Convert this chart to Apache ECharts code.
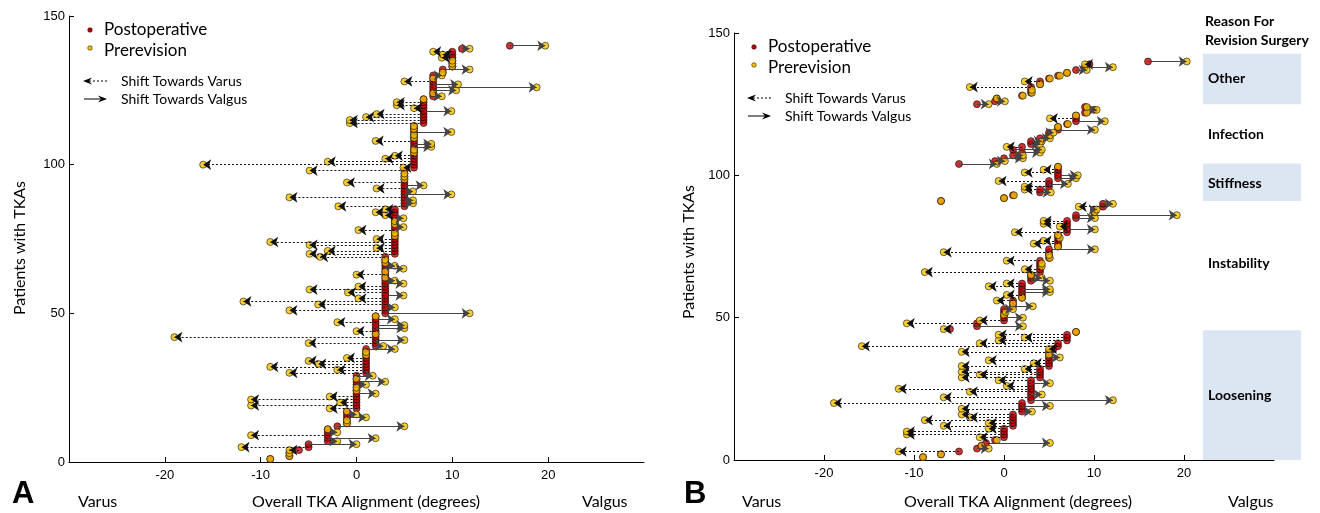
<!DOCTYPE html>
<html>
<head>
<meta charset="utf-8">
<script src="https://cdn.jsdelivr.net/npm/echarts/dist/echarts.min.js"></script>
<style>
html,body{margin:0;padding:0;background:#fff}
#chart{width:1320px;height:513px}
</style>
</head>
<body>
<div id="chart"></div>
<script>
// patients ranked from bottom (1) to top (140); alignment in degrees
var postA = [-9,-7,-7,-6,-5,-5,-3,-3,-3,-3,-3,-2,
  -1,-1,-1,-1,-1,
  0,0,0,0,0,0,0,0,0,0,0,0,
  1,1,1,1,1,1,1,1,1,
  2,2,2,2,2,2,2,2,2,2,2,
  3,3,3,3,3,3,3,3,3,3,3,3,3,3,3,3,3,3,3,3,
  4,4,4,4,4,4,4,4,4,4,4,4,4,4,4,4,
  5,5,5,5,5,5,5,5,5,5,5,5,5,
  6,6,6,6,6,6,6,6,6,6,6,6,6,6,6,
  7,7,7,7,7,7,7,7,7,
  8,8,8,8,8,8,8,8,
  9,9,
  10,10,10,10,10,10,
  11,16];
var preA = [-9,-7,-7,-7,-12,0,-2,2,-11,-2,-3,5,
  -1,-1,1,0,-1,
  -2.8,-11,-1.7,-11,-2.8,2,0,0,1,3,0,1.7,
  -7,-2,-9,-4,-5,-1,1,1,4,
  2.8,-5,5,-19,2,0,5,5,-2,4,2,
  11.8,-7,4,-4,-11.8,0.2,4.9,-0.9,-4.9,0.2,4.9,4,3,0,3,4.9,4,3,3,-3.8,
  -4.9,-3,2.1,-4.9,-9,2.1,4,4,0.2,4.9,4,4,4.9,3,2,3,
  -1.9,5.9,5.9,-7,9.9,5.9,2.1,7,-1,5,5,5,-4.9,
  4.9,-16,-3,3,4,6,6,7.8,7.8,2,6,6,9.9,6,6,
  -0.7,-0.7,1,2.1,9.9,6,4.2,4.2,7,
  8.9,8,10.4,18.8,10.6,5,8,8.9,
  9,11.8,
  10,10,10,8.9,9,8,
  11.8,19.7];

// panel B: grouped by reason for revision, bottom to top
var postB = [-9,-7,-5,-3,-2.5,-2,-1,0,0,0,0,1,1,1,1,1,2,2,2,2,3,3,3,3,3,3,3,3,4,4,4,4,5,5,5,5,5,5,5.5,6,6,7,7,7,8,
  -6,-3,-3,0,0,0,0,0,1,1,1,2,2,2,2,2,2,3,3,3,4,4,4,4,4,5,5,5,5,6,6,6,6,6,7,7,7,7,7,8,8,10,10,11,11,
  -7,0,1,4,4,5,5,5,6,6,6,6,6,
  -5,-1,0,1,2,1,2,3,3,4,5,5,6,6,7,8,8,8,9,10,9,
  -3,-1,-0.8,2,3,3,3,4,4,5,6,7,8,9,9.5,16];
var preB = [-9,-7,-11.7,-1.7,-2.5,5.1,-0.8,-2.7,-10.8,-10.8,-1.7,-6.7,-1.7,-8.8,-3.8,-4.7,3.1,-4.7,5.1,-18.9,
  12.1,-6.7,4.2,-3.8,-11.7,0.3,5.1,-0.6,-4.7,-2.7,-4.7,2.3,-4.7,3.3,-1.7,6.2,5,-4.7,5,-15.8,-2.7,-0.6,2.3,-0.6,8,
  -6.7,2.1,-10.8,-2.7,2.1,0,0.2,1,3.2,1,-0.8,2,0.3,5.1,5.1,-1.7,0.3,5.1,4.2,3,-8.8,2.3,4.2,4.2,0.3,
  5.1,5,-6.7,10.1,6,3.3,4.4,6.2,6,1.2,10.1,6.2,4.4,4.4,10.1,19.2,10.1,10.3,8.3,12.1,
  -7,0,1.1,5.2,2.3,2.3,7.1,-0.6,8,8.2,2.3,4.4,6,
  -0.8,0.1,2.1,2.1,4,4.2,0.3,4,4.2,5.1,5.1,5.5,10.1,6,7.1,11.2,5.1,8,9.2,10.3,9.2,
  -1.7,0.1,-0.8,2.1,3.1,3.1,-3.8,4,2.3,5.1,6.2,7,9.2,12.1,9,20.3];

var xTicks = [-20, -10, 0, 10, 20];

var reasonNames = ['Loosening', 'Instability', 'Stiffness', 'Infection', 'Other'];
var reasonFrom = [0, 45.6, 91, 104.2, 125];
var reasonTo = [45.6, 91, 104.2, 125, 142.7];
var reasonShaded = [true, false, true, false, true];
var reasonLabelAt = [22.8, 69, 97.2, 114.4, 134];

var RED = '#c00000', GOLD = '#f3c000';
var FONT = 'Lato';

function pts(arr) {
  return arr.map(function (v, i) { return [v, i + 1]; });
}
function shifts(post, pre, dir) {
  var out = [];
  post.forEach(function (p, i) {
    var d = pre[i] - p;
    if (dir < 0 ? d < -0.3 : d > 0.3) out.push({coords: [[p, i + 1], [pre[i], i + 1]]});
  });
  return out;
}

function xAx(g) {
  return {
    gridIndex: g, type: 'value', min: -30, max: 30, interval: 10,
    axisLine: {onZero: false, lineStyle: {color: '#000', width: 1}},
    axisTick: {inside: true, length: 5, customValues: xTicks, lineStyle: {color: '#000'}},
    axisLabel: {customValues: xTicks, color: '#000', fontFamily: 'Liberation Sans', fontSize: 13, margin: 7},
    splitLine: {show: false}
  };
}
function yAx(g) {
  return {
    gridIndex: g, type: 'value', min: 0, max: 150, interval: 50,
    axisLine: {show: true, onZero: false, lineStyle: {color: '#000', width: 1}},
    axisTick: {show: true, inside: true, length: 5, lineStyle: {color: '#000'}},
    axisLabel: {color: '#000', fontFamily: 'Liberation Sans', fontSize: 13, margin: 4},
    splitLine: {show: false}
  };
}
function panelSeries(g, post, pre) {
  return [
    {type: 'scatter', xAxisIndex: g, yAxisIndex: g, data: pts(post), symbolSize: 7, z: 3, silent: true,
      itemStyle: {color: RED, borderColor: '#000', borderWidth: 0.7}},
    {type: 'scatter', xAxisIndex: g, yAxisIndex: g, data: pts(pre), symbolSize: 7, z: 4, silent: true,
      itemStyle: {color: GOLD, borderColor: '#000', borderWidth: 0.7}},
    {type: 'lines', coordinateSystem: 'cartesian2d', xAxisIndex: g, yAxisIndex: g, z: 5, silent: true,
      data: shifts(post, pre, -1), symbol: ['none', 'arrow'], symbolSize: 8,
      lineStyle: {color: '#111', width: 1, type: [2, 2], opacity: 1}},
    {type: 'lines', coordinateSystem: 'cartesian2d', xAxisIndex: g, yAxisIndex: g, z: 5, silent: true,
      data: shifts(post, pre, 1), symbol: ['none', 'arrow'], symbolSize: 8,
      lineStyle: {color: '#444', width: 1.2, type: 'solid', opacity: 1}}
  ];
}

var chart = echarts.init(document.getElementById('chart'));
chart.setOption({
  animation: false,
  backgroundColor: '#fff',
  grid: [
    {left: 69, top: 16, width: 575, height: 446},
    {left: 734, top: 33, width: 540, height: 427}
  ],
  xAxis: [xAx(0), xAx(1)],
  yAxis: [yAx(0), yAx(1)],
  series: panelSeries(0, postA, preA).concat(panelSeries(1, postB, preB))
});

function txt(x, y, s, size, opts) {
  opts = opts || {};
  return {type: 'text', x: x, y: y, rotation: opts.rot || 0, z: 10,
    style: {text: s, fill: opts.color || '#000', font: (opts.weight || 'normal') + ' ' + size + 'px ' + (opts.family || FONT),
      textAlign: opts.align || 'left', textVerticalAlign: 'middle'}};
}
function dot(x, y, c) {
  return {type: 'circle', shape: {cx: x, cy: y, r: 2.3}, z: 10, style: {fill: c, stroke: '#000', lineWidth: 0.5}};
}
function arrow(x1, x2, y, dashed) {
  var dir = x2 > x1 ? 1 : -1;
  return [
    {type: 'line', shape: {x1: x1, y1: y, x2: x2 - dir * 4, y2: y}, z: 10,
      style: {stroke: '#000', lineWidth: 1, lineDash: dashed ? [2, 2] : null}},
    {type: 'polygon', z: 10, shape: {points: [[x2, y], [x2 - dir * 9, y - 3.5], [x2 - dir * 6, y], [x2 - dir * 9, y + 3.5]]},
      style: {fill: '#000'}}
  ];
}
function legend(x, y0) {
  return [
    dot(x, y0, RED), txt(x + 14, y0, 'Postoperative', 17),
    dot(x, y0 + 18, GOLD), txt(x + 14, y0 + 21, 'Prerevision', 17),
    txt(x + 31, y0 + 51, 'Shift Towards Varus', 14),
    txt(x + 31, y0 + 69, 'Shift Towards Valgus', 14)
  ].concat(arrow(x + 17, x - 7, y0 + 51, true)).concat(arrow(x - 6, x + 17, y0 + 69, false));
}

var g = [];
g = g.concat(legend(90, 30), legend(754, 47));
g.push(txt(20, 248, 'Patients with TKAs', 16, {rot: Math.PI / 2, align: 'center'}));
g.push(txt(689, 252, 'Patients with TKAs', 16, {rot: Math.PI / 2, align: 'center'}));
g.push(txt(12, 494, 'A', 31, {weight: 'bold', family: 'Liberation Sans'}));
g.push(txt(684, 494, 'B', 31, {weight: 'bold', family: 'Liberation Sans'}));
g.push(txt(78, 502, 'Varus', 16), txt(366, 502, 'Overall TKA Alignment (degrees)', 16, {align: 'center'}), txt(582, 502, 'Valgus', 16));
g.push(txt(742, 502, 'Varus', 16), txt(1018, 502, 'Overall TKA Alignment (degrees)', 16, {align: 'center'}), txt(1228, 502, 'Valgus', 16));
g.push(txt(1205, 21, 'Reason For', 14, {weight: 'bold'}), txt(1205, 40, 'Revision Surgery', 14, {weight: 'bold'}));

reasonNames.forEach(function (name, i) {
  var top = chart.convertToPixel({gridIndex: 1}, [0, reasonTo[i]])[1];
  var bot = chart.convertToPixel({gridIndex: 1}, [0, reasonFrom[i]])[1];
  if (reasonShaded[i]) {
    g.push({type: 'rect', z: 1, shape: {x: 1203, y: top, width: 98, height: bot - top}, style: {fill: '#dce6f2'}});
  }
  var ly = chart.convertToPixel({gridIndex: 1}, [0, reasonLabelAt[i]])[1];
  g.push(txt(1208, ly, name, 14, {weight: 'bold'}));
});

chart.setOption({graphic: g});
</script>
</body>
</html>
